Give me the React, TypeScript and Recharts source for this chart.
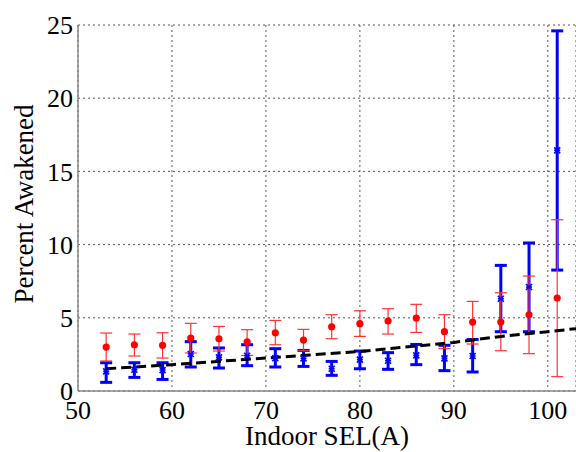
import React from 'react';
import { ComposedChart, Scatter, Line, XAxis, YAxis, CartesianGrid, ErrorBar } from 'recharts';

const sel = [53, 56, 59, 62, 65, 68, 71, 74, 77, 80, 83, 86, 89, 92, 95, 98, 101];

const redMean = [3.0, 3.16, 3.12, 3.62, 3.57, 3.35, 3.98, 3.48, 4.39, 4.6, 4.78, 4.98, 4.05, 4.71, 4.71, 5.21, 6.35];
const redLow = [2.05, 2.39, 2.25, 2.6, 2.73, 2.43, 3.16, 2.75, 3.57, 3.73, 3.89, 4.0, 2.89, 3.21, 2.75, 2.55, 0.98];
const redHigh = [3.96, 3.89, 3.98, 4.62, 4.41, 4.19, 4.82, 4.21, 5.21, 5.48, 5.62, 5.92, 5.21, 6.12, 6.71, 7.85, 11.7];

const blueMean = [1.34, 1.45, 1.43, 2.53, 2.3, 2.41, 2.25, 2.23, 1.52, 2.14, 2.07, 2.43, 2.23, 2.39, 6.3, 7.1, 16.44];
const blueLow = [0.59, 0.93, 0.79, 1.64, 1.57, 1.73, 1.64, 1.68, 1.07, 1.52, 1.48, 1.8, 1.39, 1.3, 4.05, 4.05, 8.26];
const blueHigh = [1.93, 1.93, 1.93, 3.37, 2.94, 3.16, 2.89, 2.77, 2.02, 2.73, 2.62, 3.18, 3.12, 3.52, 8.58, 10.11, 24.6];

const fitX = [53, 60, 70, 80, 90, 95, 100, 103];
const fitY = [1.52, 1.8, 2.25, 2.7, 3.32, 3.73, 4.05, 4.26];

const xTicks = [50, 60, 70, 80, 90, 100];
const yTicks = [0, 5, 10, 15, 20, 25];

const redData = sel.map((x, i) => ({ x, y: redMean[i], err: [redMean[i] - redLow[i], redHigh[i] - redMean[i]] }));
const blueData = sel.map((x, i) => ({ x, y: blueMean[i], err: [blueMean[i] - blueLow[i], blueHigh[i] - blueMean[i]] }));
const fitData = fitX.map((x, i) => ({ x, y: fitY[i] }));

const FONT = "'Liberation Serif', 'Times New Roman', 'DejaVu Serif', serif";

const RedDot = (p: any) => <circle cx={p.cx} cy={p.cy} r={3.6} fill="#ff0000" />;
const BlueStar = (p: any) => {
  const { cx, cy } = p;
  const s = 3;
  return (
    <g stroke="#0000ff" strokeWidth={1.6}>
      <line x1={cx - s} y1={cy - s} x2={cx + s} y2={cy + s} />
      <line x1={cx - s} y1={cy + s} x2={cx + s} y2={cy - s} />
      <line x1={cx - s} y1={cy} x2={cx + s} y2={cy} />
    </g>
  );
};

const YLabel = (props: any) => {
  const vb = props.viewBox || {};
  const cx = 33;
  const cy = vb.y + vb.height / 2 - 4;
  return (
    <text
      x={cx}
      y={cy}
      transform={`rotate(-90, ${cx}, ${cy})`}
      textAnchor="middle"
      style={{ fontFamily: FONT, fontSize: 27 }}
      fill="#000"
    >
      Percent Awakened
    </text>
  );
};

const tickStyle = { fontFamily: FONT, fontSize: 26, fill: '#000', style: { fontFamily: FONT, fontSize: 26 } };

export default function App() {
  return (
    <div style={{ position: 'absolute', left: 0, top: 0, background: '#fff', fontFamily: FONT }}>
      <ComposedChart width={576} height={452} margin={{ top: 25, right: 0, bottom: 0, left: 0 }} style={{ fontFamily: FONT }}>
        <CartesianGrid stroke="#555" strokeDasharray="2 3" strokeWidth={1} />
        <XAxis
          type="number"
          dataKey="x"
          domain={[50, 103]}
          ticks={xTicks}
          allowDataOverflow
          height={61}
          tickSize={0}
          tickMargin={10}
          tick={tickStyle}
          axisLine={{ stroke: '#888', strokeWidth: 1.5 }}
          tickLine={false}
          label={{ value: 'Indoor SEL(A)', position: 'insideBottom', offset: 7, fontSize: 27, fill: '#000', style: { fontFamily: FONT, fontSize: 27 } }}
        />
        <YAxis
          type="number"
          dataKey="y"
          domain={[0, 25]}
          ticks={yTicks}
          allowDataOverflow
          width={78}
          tickSize={0}
          tickMargin={5}
          tick={tickStyle}
          axisLine={{ stroke: '#888', strokeWidth: 1.5 }}
          tickLine={false}
          label={<YLabel />}
        />
        <Scatter data={blueData} dataKey="y" shape={BlueStar} isAnimationActive={false}>
          <ErrorBar dataKey="err" direction="y" width={6} stroke="#0000ff" strokeWidth={3} isAnimationActive={false} />
        </Scatter>
        <Scatter data={redData} dataKey="y" shape={RedDot} isAnimationActive={false}>
          <ErrorBar dataKey="err" direction="y" width={6} stroke="#ff3333" strokeWidth={1.2} isAnimationActive={false} />
        </Scatter>
        <Line
          data={fitData}
          dataKey="y"
          type="linear"
          stroke="#000"
          strokeWidth={3}
          strokeDasharray="10 5"
          dot={false}
          activeDot={false}
          isAnimationActive={false}
        />
      </ComposedChart>
    </div>
  );
}
